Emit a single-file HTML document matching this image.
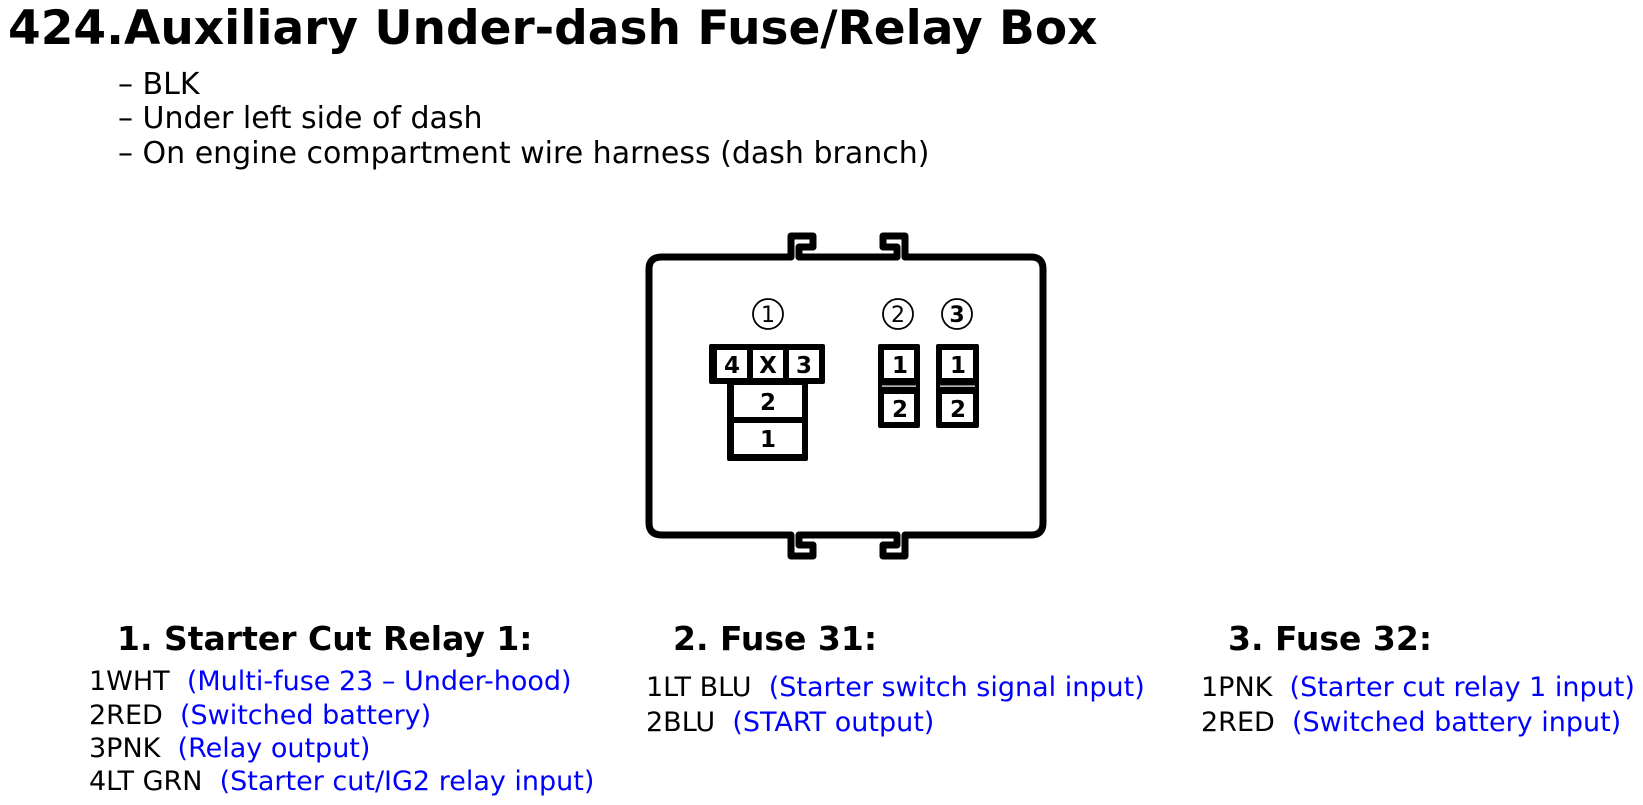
<!DOCTYPE html>
<html><head><meta charset="utf-8"><style>
body{margin:0;width:1643px;height:805px;background:#fff;position:relative;overflow:hidden;font-family:"DejaVu Sans","Liberation Sans",sans-serif;color:#000}
.t{position:absolute;white-space:nowrap;line-height:1}
.b{color:#0000ff}
h1{position:absolute;margin:0;left:8px;top:5px;font-size:47px;font-weight:bold;white-space:nowrap;line-height:1}
.hd{font-weight:bold;font-size:33px}
.ln{font-size:27px}
.bl{font-size:30px}
</style></head><body>
<h1>424.Auxiliary Under-dash Fuse/Relay Box</h1>
<div class="t bl" style="left:118px;top:70px">– BLK</div>
<div class="t bl" style="left:118px;top:104px">– Under left side of dash</div>
<div class="t bl" style="left:118px;top:139px">– On engine compartment wire harness (dash branch)</div>

<svg style="position:absolute;left:0;top:0" width="1643" height="805">
<path d="M662 257 H791 V236 H813 V247 H799 V257 H897 V247 H883 V236 H905 V257 H1031 Q1043 257 1043 269 V523 Q1043 535 1031 535 H905 V556 H883 V545 H897 V535 H799 V545 H813 V556 H791 V535 H662 Q649 535 649 523 V269 Q649 257 662 257 Z" fill="none" stroke="#000" stroke-width="7" stroke-linejoin="round"/>
<g fill="none" stroke="#000" stroke-width="1.8">
<circle cx="768" cy="314" r="15"/><circle cx="898" cy="314" r="15"/><circle cx="957" cy="314" r="15"/>
</g>
<g font-family="DejaVu Sans,sans-serif" font-size="22" text-anchor="middle">
<text x="768" y="322">1</text><text x="898" y="322">2</text><text x="957" y="322" font-weight="bold">3</text>
</g>
<rect x="709" y="344" width="116" height="40" rx="2" fill="#000"/>
<rect x="727" y="380" width="81" height="81" rx="2" fill="#000"/>
<g fill="#fff">
<rect x="717" y="350" width="30" height="28"/><rect x="753" y="350" width="30" height="28"/><rect x="789" y="350" width="30" height="28"/>
<rect x="734" y="385" width="68" height="32"/><rect x="734" y="423" width="68" height="31"/>
</g>
<rect x="878" y="344" width="42" height="84" rx="2" fill="#000"/>
<rect x="936" y="344" width="43" height="84" rx="2" fill="#000"/>
<g fill="#fff">
<rect x="884" y="350" width="30" height="28"/><rect x="884" y="394" width="30" height="28"/><rect x="882" y="385.5" width="34" height="1.2"/>
<rect x="942" y="350" width="31" height="28"/><rect x="942" y="394" width="31" height="28"/><rect x="940" y="385.5" width="35" height="1.2"/>
</g>
<g font-family="DejaVu Sans,sans-serif" font-size="23" font-weight="bold" text-anchor="middle">
<text x="732" y="373">4</text><text x="768" y="373">X</text><text x="804" y="373">3</text>
<text x="768" y="410">2</text><text x="768" y="447">1</text>
<text x="900" y="373">1</text><text x="900" y="417">2</text>
<text x="958" y="373">1</text><text x="958" y="417">2</text>
</g>
</svg>

<div class="t hd" style="left:117px;top:622px">1. Starter Cut Relay 1:</div>
<div class="t ln" style="left:89px;top:668px">1WHT&nbsp; <span class="b">(Multi-fuse 23 – Under-hood)</span></div>
<div class="t ln" style="left:89px;top:702px">2RED&nbsp; <span class="b">(Switched battery)</span></div>
<div class="t ln" style="left:89px;top:735px">3PNK&nbsp; <span class="b">(Relay output)</span></div>
<div class="t ln" style="left:89px;top:768px">4LT GRN&nbsp; <span class="b">(Starter cut/IG2 relay input)</span></div>

<div class="t hd" style="left:673px;top:622px">2. Fuse 31:</div>
<div class="t ln" style="left:646px;top:674px">1LT BLU&nbsp; <span class="b">(Starter switch signal input)</span></div>
<div class="t ln" style="left:646px;top:709px">2BLU&nbsp; <span class="b">(START output)</span></div>

<div class="t hd" style="left:1228px;top:622px">3. Fuse 32:</div>
<div class="t ln" style="left:1201px;top:674px">1PNK&nbsp; <span class="b">(Starter cut relay 1 input)</span></div>
<div class="t ln" style="left:1201px;top:709px">2RED&nbsp; <span class="b">(Switched battery input)</span></div>
</body></html>
